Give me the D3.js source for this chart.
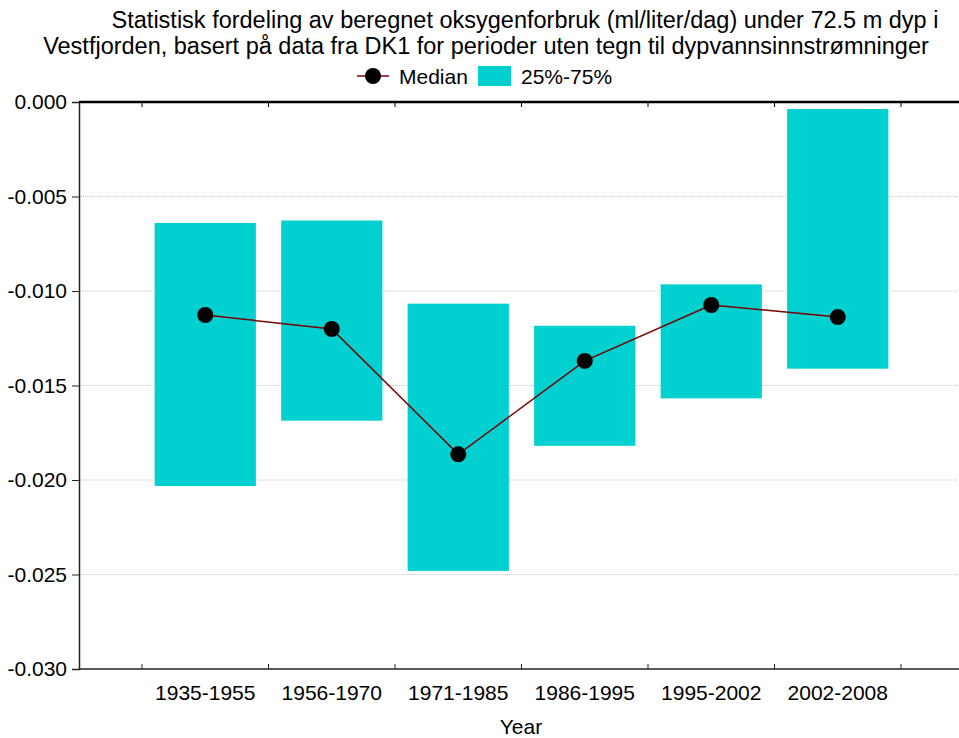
<!DOCTYPE html>
<html>
<head>
<meta charset="utf-8">
<script src="https://cdn.jsdelivr.net/npm/d3@7"></script>
<style>
  html, body { margin: 0; padding: 0; background: #fff; }
  svg { display: block; font-family: "Liberation Sans", Arial, sans-serif; }
</style>
</head>
<body>
<svg id="chart" width="959" height="738"></svg>
<script>
// Periods and oxygen-consumption statistics (ml/liter/dag)
const periods = ["1935-1955", "1956-1970", "1971-1985", "1986-1995", "1995-2002", "2002-2008"];
const median  = [-0.01127, -0.01201, -0.01864, -0.01370, -0.01074, -0.01138];
const q25     = [-0.02032, -0.01686, -0.02481, -0.01819, -0.01568, -0.01411];
const q75     = [-0.00640, -0.00627, -0.01067, -0.01184, -0.00965, -0.00037];
const yTicks  = [0, -0.005, -0.010, -0.015, -0.020, -0.025, -0.030];

const titleLines = [
  "Statistisk fordeling av beregnet oksygenforbruk (ml/liter/dag) under 72.5 m dyp i",
  "Vestfjorden, basert på data fra DK1 for perioder uten tegn til dypvannsinnstrømninger"
];

const svg = d3.select("#chart");
const pL = 79, pR = 959, pT = 102, pB = 669;
const boxColor = "#00d0d0";
const lineColor = "#7a0000";
const fs = 21;

const x = d3.scaleBand().domain(periods).range([142, 901]).padding(0);
const y = d3.scaleLinear().domain([-0.030, 0]).range([pB, pT]);

// Title
svg.append("text").attr("x", 525).attr("y", 28).attr("text-anchor", "middle")
  .attr("font-size", 23.5).attr("fill", "#000").text(titleLines[0]);
svg.append("text").attr("x", 486).attr("y", 54).attr("text-anchor", "middle")
  .attr("font-size", 23.5).attr("fill", "#000").text(titleLines[1]);

// Legend
const lg = svg.append("g");
lg.append("line").attr("x1", 357).attr("x2", 389).attr("y1", 76).attr("y2", 76)
  .attr("stroke", lineColor).attr("stroke-width", 1.5);
lg.append("circle").attr("cx", 373).attr("cy", 76).attr("r", 8).attr("fill", "#000");
lg.append("text").attr("x", 399).attr("y", 83.5).attr("font-size", fs).text("Median");
lg.append("rect").attr("x", 478).attr("y", 66).attr("width", 33).attr("height", 20).attr("fill", boxColor);
lg.append("text").attr("x", 521).attr("y", 83.5).attr("font-size", fs).text("25%-75%");

// Grid lines
svg.append("g").selectAll("line").data(yTicks.filter(v => v !== 0 && v !== -0.030)).join("line")
  .attr("x1", pL).attr("x2", pR)
  .attr("y1", d => y(d)).attr("y2", d => y(d))
  .attr("stroke", "#c8c8c8").attr("stroke-width", 1).attr("stroke-dasharray", "1,1");

// Interquartile boxes
const bw = x.bandwidth() * 0.8;
svg.append("g").selectAll("rect").data(periods).join("rect")
  .attr("x", d => x(d) + (x.bandwidth() - bw) / 2)
  .attr("width", bw)
  .attr("y", (d, i) => y(q75[i]))
  .attr("height", (d, i) => y(q25[i]) - y(q75[i]))
  .attr("fill", boxColor);

// Median line and markers
const cx = d => x(d) + x.bandwidth() / 2;
svg.append("path")
  .datum(periods)
  .attr("d", d3.line().x(d => cx(d)).y((d, i) => y(median[i])))
  .attr("fill", "none").attr("stroke", lineColor).attr("stroke-width", 1.5);
svg.append("g").selectAll("circle").data(periods).join("circle")
  .attr("cx", d => cx(d)).attr("cy", (d, i) => y(median[i])).attr("r", 8).attr("fill", "#000");

// Left axis
const yAxis = d3.axisLeft(y).tickValues(yTicks).tickSize(7).tickPadding(5)
  .tickFormat(d => d3.format(".3f")(d).replace("−", "-"));
const ya = svg.append("g").attr("transform", `translate(${pL},0)`).call(yAxis);
ya.select(".domain").attr("stroke", "#222").attr("stroke-width", 1.5);
ya.selectAll(".tick line").attr("stroke", "#222");
ya.selectAll(".tick text").attr("font-size", fs).attr("fill", "#000")
  .attr("font-family", "Liberation Sans, Arial, sans-serif");

// Bottom axis: ticks between categories pointing inward, labels centred on categories
const boundaries = periods.map(p => x(p)).concat([x.range()[1]]);
const bx = svg.append("g");
bx.append("line").attr("x1", pL).attr("x2", pR).attr("y1", pB).attr("y2", pB)
  .attr("stroke", "#222").attr("stroke-width", 1.5);
bx.selectAll("line.tk").data(boundaries).join("line").attr("class", "tk")
  .attr("x1", d => d).attr("x2", d => d).attr("y1", pB).attr("y2", pB - 5)
  .attr("stroke", "#222").attr("stroke-width", 1);
bx.selectAll("text").data(periods).join("text")
  .attr("x", d => cx(d)).attr("y", 700).attr("text-anchor", "middle")
  .attr("font-size", fs).attr("fill", "#000").text(d => d);

// Top frame line with inward ticks
const tx = svg.append("g");
tx.append("line").attr("x1", pL).attr("x2", pR).attr("y1", pT).attr("y2", pT)
  .attr("stroke", "#000").attr("stroke-width", 2.5);
tx.selectAll("line.tk").data(boundaries).join("line").attr("class", "tk")
  .attr("x1", d => d).attr("x2", d => d).attr("y1", pT).attr("y2", pT + 5)
  .attr("stroke", "#000").attr("stroke-width", 1);

// Axis title
svg.append("text").attr("x", 521).attr("y", 734).attr("text-anchor", "middle")
  .attr("font-size", fs).attr("fill", "#000").text("Year");
</script>
</body>
</html>
